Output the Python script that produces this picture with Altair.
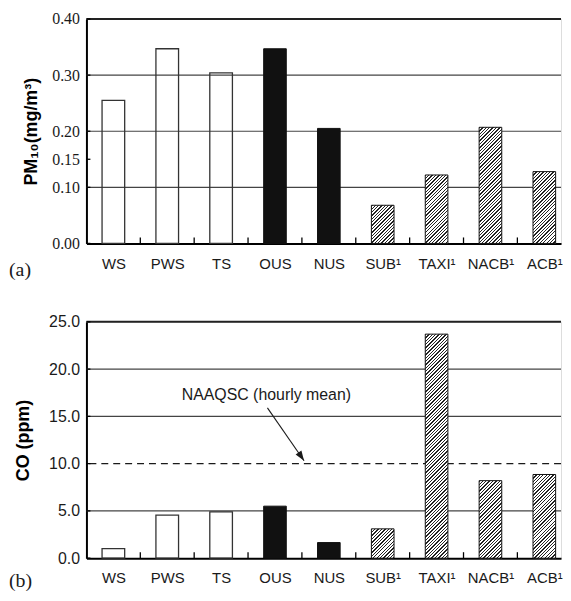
import altair as alt
import pandas as pd

# ---------------- data ----------------
categories = ["WS", "PWS", "TS", "OUS", "NUS", "SUB¹", "TAXI¹", "NACB¹", "ACB¹"]
groups = ["open", "open", "open", "solid", "solid", "hatch", "hatch", "hatch", "hatch"]
pm10_values = [0.255, 0.347, 0.304, 0.347, 0.205, 0.068, 0.122, 0.207, 0.128]
co_values = [1.0, 4.55, 4.9, 5.5, 1.65, 3.1, 23.7, 8.2, 8.85]

pm10_ticks = [0.0, 0.10, 0.15, 0.20, 0.30, 0.40]
pm10_grid = [0.10, 0.20, 0.30]
pm10_max = 0.40
co_ticks = [0.0, 5.0, 10.0, 15.0, 20.0, 25.0]
co_grid = [5.0, 15.0, 20.0]
co_max = 25.0
co_standard = [10.0]
standard_label = ["NAAQSC (hourly mean)"]
label_x, label_y = [2.84], [17.3]
arrow_x, arrow_y, arrow_x2, arrow_y2 = [2.86], [15.9], [3.54], [10.3]
panel_tags = ["(a)", "(b)"]

# ---------------- style ----------------
W = 478
X_MIN, X_MAX = -0.5, 8.31   # right end of the plot is cut off as in the original
H_TOP = 226
H_BOT = 238
HALF = 0.21          # half bar width in category units
INK = "#1a1a1a"
GRID = "#444444"
SANS = "Liberation Sans"
SERIF = "Liberation Serif"

label_expr = "[" + ",".join("'%s'" % c for c in categories) + "][datum.value]"
boundaries = [i + 0.5 for i in range(len(categories) - 1)]


def hatch(w, h, period=3.4, dark=0.4, color="#222222"):
    """Diagonal '/' stripes as a linear gradient in bounding-box units."""
    L = w + h
    stops = []
    k = 0
    while k * period < L:
        a = k * period / L
        b = min((k * period + dark * period) / L, 1.0)
        c = min((k + 1) * period / L, 1.0)
        stops += [
            {"offset": a, "color": color},
            {"offset": b, "color": color},
            {"offset": b, "color": "#ffffff"},
            {"offset": c, "color": "#ffffff"},
        ]
        k += 1
    d = w * w + h * h
    return alt.LinearGradient(gradient="linear", x1=0, y1=0,
                              x2=w * L / d, y2=h * L / d, stops=stops)


def panel(values, ymax, ticks, grid, H, fmt, ytitle, yfont, tag, tpad, tag_base):
    df = pd.DataFrame({"cat": categories, "idx": list(range(len(categories))),
                       "group": groups, "value": values})
    xscale = alt.Scale(domain=[X_MIN, X_MAX], nice=False, zero=False)
    yscale = alt.Scale(domain=[0, ymax], nice=False)
    xaxis = alt.Axis(values=list(range(len(categories))), labelExpr=label_expr,
                     grid=False, ticks=False, title=None, labelFont=SANS,
                     labelFontSize=15, labelColor=INK, labelPadding=13,
                     domainWidth=2, domainColor="black", labelFlush=False,
                     labelOverlap=False)
    yaxis = alt.Axis(values=ticks, format=fmt, grid=False, ticks=False,
                     title=ytitle, titleFont=SANS, titleFontWeight="bold",
                     titleFontSize=18, titleColor="black", titlePadding=tpad,
                     labelFont=yfont, labelFontSize=16, labelColor=INK,
                     labelPadding=7, domainWidth=2, domainColor="black",
                     labelFlush=False, labelOverlap=False)

    base = alt.Chart(df).transform_calculate(
        x0="datum.idx - %f" % HALF, x1="datum.idx + %f" % HALF)
    enc = dict(x=alt.X("x0:Q", scale=xscale, axis=xaxis),
               x2="x1:Q",
               y=alt.Y("value:Q", scale=yscale, axis=yaxis),
               y2=alt.datum(0))

    layers = []
    layers.append(alt.Chart(pd.DataFrame({"v": grid})).mark_rule(
        color=GRID, strokeWidth=1.2).encode(
        y=alt.Y("v:Q", scale=yscale, axis=yaxis)))
    layers.append(alt.Chart(pd.DataFrame({"v": [ymax]})).mark_rule(
        color="#222222", strokeWidth=2).encode(
        y=alt.Y("v:Q", scale=yscale, axis=yaxis)))
    if ymax == co_max:
        layers.append(alt.Chart(pd.DataFrame({"v": co_standard})).mark_rule(
            color=INK, strokeWidth=1.2, strokeDash=[7, 5]).encode(
            y=alt.Y("v:Q", scale=yscale, axis=yaxis)))
    layers.append(base.transform_filter("datum.group == 'open'").mark_bar(
        fill="#ffffff", fillOpacity=0, stroke="#333333", strokeWidth=1.3).encode(**enc))
    layers.append(base.transform_filter("datum.group == 'solid'").mark_bar(
        fill="#111111", stroke="#111111", strokeWidth=1).encode(**enc))
    bw = 2 * HALF * W / (X_MAX - X_MIN)
    for c, g, v in zip(categories, groups, values):
        if g != "hatch":
            continue
        bh = v / ymax * H
        layers.append(base.transform_filter(alt.datum.cat == c).mark_bar(
            fill=hatch(bw, bh), stroke="#111111", strokeWidth=1).encode(**enc))
    # inward ticks on x axis between categories
    layers.append(alt.Chart(pd.DataFrame({"b": boundaries})).mark_rule(
        color="black", strokeWidth=1.3).encode(
        x=alt.X("b:Q", scale=xscale, axis=xaxis),
        y=alt.value(H), y2=alt.value(H - 6)))
    # inward ticks on y axis
    layers.append(alt.Chart(pd.DataFrame({"t": ticks})).mark_rule(
        color="black", strokeWidth=1.3).encode(
        y=alt.Y("t:Q", scale=yscale, axis=yaxis),
        x=alt.value(0), x2=alt.value(4)))
    if ymax == co_max:
        ann = pd.DataFrame({"x": label_x, "y": label_y, "label": standard_label})
        layers.append(alt.Chart(ann).mark_text(
            font=SANS, fontSize=16, color=INK, baseline="middle", align="center").encode(
            x=alt.X("x:Q", scale=xscale, axis=xaxis),
            y=alt.Y("y:Q", scale=yscale, axis=yaxis), text="label:N"))
        arr = pd.DataFrame({"x": arrow_x, "y": arrow_y, "x2": arrow_x2, "y2": arrow_y2})
        layers.append(alt.Chart(arr).mark_rule(color=INK, strokeWidth=1.1).encode(
            x=alt.X("x:Q", scale=xscale, axis=xaxis), x2="x2:Q",
            y=alt.Y("y:Q", scale=yscale, axis=yaxis), y2="y2:Q"))
        layers.append(alt.Chart(arr).mark_point(
            shape="M0,0 L-0.7,2 L0.7,2 Z", size=100, filled=True, color=INK,
            opacity=1, angle=146).encode(
            x=alt.X("x2:Q", scale=xscale, axis=xaxis),
            y=alt.Y("y2:Q", scale=yscale, axis=yaxis)))
    # panel tag "(a)" / "(b)"
    layers.append(alt.Chart(pd.DataFrame({"tag": [tag]})).mark_text(
        font=SERIF, fontSize=20, color=INK, align="left", baseline="alphabetic").encode(
        x=alt.value(-78), y=alt.value(H + tag_base), text="tag:N"))

    return alt.layer(*layers).properties(width=W, height=H)


top = panel(pm10_values, pm10_max, pm10_ticks, pm10_grid, H_TOP, ".2f",
            "PM₁₀(mg/m³)", SERIF, panel_tags[0], 11, 33)
bottom = panel(co_values, co_max, co_ticks, co_grid, H_BOT, ".1f",
               "CO (ppm)", SANS, panel_tags[1], 16, 29)

chart = alt.vconcat(top, bottom, spacing=79, bounds="flush").properties(
    padding={"left": 0, "top": 0, "right": 0, "bottom": 0}
).configure_view(stroke=None).configure(background="white")

chart.save("out.html", embed_options={"renderer": "svg", "actions": False})
